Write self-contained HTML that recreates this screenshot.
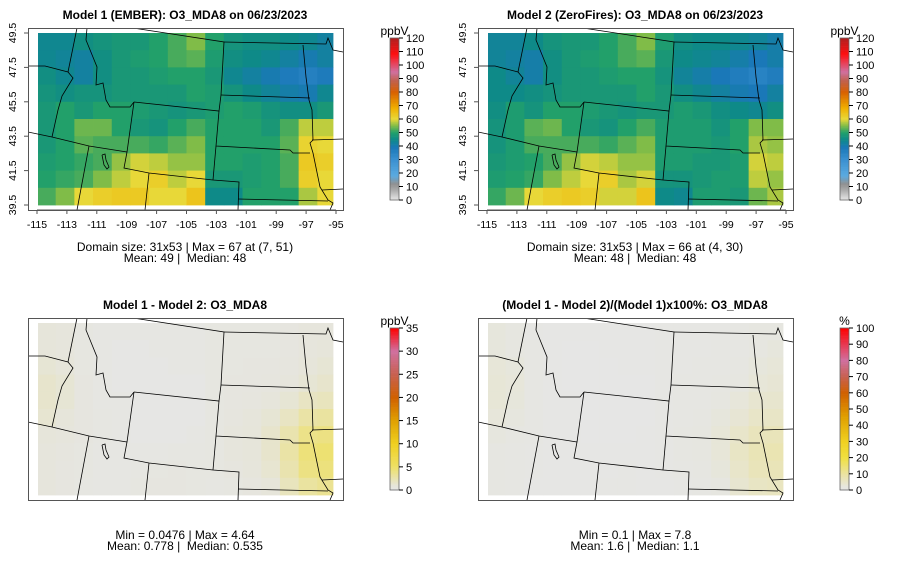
<!DOCTYPE html>
<html><head><meta charset="utf-8"><style>
html,body{margin:0;padding:0;background:#fff;}
svg{display:block;font-family:"Liberation Sans",sans-serif;}
</style></head><body>
<svg id="fig" width="900" height="579" viewBox="0 0 900 579"></svg>
<script>
// ---------- data ----------
const lonEdges = [-115,-95];
const latEdges = [39.5,49.5];
const lonTicks = [-115,-113,-111,-109,-107,-105,-103,-101,-99,-97,-95];
const latTicks = [49.5,47.5,45.5,43.5,41.5,39.5];
const ppbTicks = [0,10,20,30,40,50,60,70,80,90,100,110,120];
const diffTicks = [0,5,10,15,20,25,30,35];
const pctTicks = [0,10,20,30,40,50,60,70,80,90,100];
// rows: north (49) -> south (40); cols: west (-115) -> east (-95)
const model1 = [
[44,44,46,47,48,48,50,52,55,50,47,46,46,45,44,42],
[44,43,42,46,48,49,50,52,53,49,46,45,44,42,40,42],
[46,44,42,46,48,48,49,50,50,48,44,42,40,38,36,38],
[47,46,47,47,48,48,48,48,50,49,47,45,43,41,40,44],
[48,50,48,50,50,49,48,47,48,49,50,49,47,46,46,48],
[48,50,54,54,50,48,47,50,52,50,50,50,48,52,58,58],
[48,50,53,52,52,52,51,53,55,50,50,50,50,53,61,60],
[49,50,51,52,56,59,58,56,56,50,50,49,50,52,63,62],
[50,51,52,55,58,60,62,58,60,48,48,49,50,52,62,60],
[52,55,60,62,63,63,60,60,64,45,45,50,50,50,57,60]];
const model2 = [
[43,43,45,47,48,48,50,52,55,49,46,45,45,44,43,41],
[43,42,41,46,48,49,50,52,53,48,45,44,43,41,39,41],
[45,43,41,46,48,48,49,50,50,47,43,41,39,37,35,37],
[45,45,46,47,48,48,48,48,50,48,46,44,42,40,39,42],
[46,49,47,50,50,49,48,47,48,48,49,48,46,45,44,46],
[47,49,53,54,50,48,47,50,52,49,49,49,47,50,55,55],
[47,49,52,52,52,52,51,53,55,49,49,49,48,50,57,56],
[48,49,50,52,56,59,58,56,56,49,49,48,48,49,59,58],
[49,50,51,55,58,60,62,57,59,47,47,48,49,49,58,56],
[51,54,60,62,63,62,59,59,64,45,44,49,49,48,54,57]];
const diffVals = [
[1.0,0.8,0.5,0.3,0.3,0.3,0.3,0.3,0.3,0.5,0.5,0.5,0.5,0.6,0.8,0.8],
[1.0,0.8,0.5,0.3,0.2,0.2,0.3,0.3,0.3,0.5,0.5,0.5,0.5,0.6,0.8,1.0],
[1.2,1.0,0.5,0.3,0.2,0.2,0.2,0.3,0.3,0.5,0.5,0.6,0.6,0.7,1.0,1.2],
[1.5,1.2,0.6,0.3,0.2,0.2,0.2,0.2,0.2,0.5,0.6,0.6,0.7,0.8,1.2,1.5],
[1.5,1.2,0.6,0.3,0.3,0.2,0.2,0.2,0.2,0.5,0.6,0.7,0.9,1.2,1.8,2.0],
[1.3,1.0,0.6,0.4,0.3,0.2,0.2,0.2,0.2,0.5,0.7,0.9,1.2,1.8,2.8,3.0],
[1.0,0.8,0.6,0.4,0.3,0.2,0.2,0.2,0.3,0.5,0.8,1.0,1.5,2.5,3.8,4.0],
[0.8,0.7,0.5,0.3,0.3,0.3,0.3,0.4,0.4,0.5,0.8,1.0,1.5,2.8,4.3,4.6],
[0.8,0.6,0.5,0.3,0.3,0.4,0.5,0.6,0.5,0.5,0.7,0.9,1.3,2.5,4.0,4.2],
[0.8,0.6,0.4,0.3,0.3,0.5,0.6,0.6,0.5,0.4,0.5,0.7,1.0,2.0,3.0,3.5]];
const pctVals = [
[2.5,2.0,1.0,0.6,0.6,0.6,0.6,0.6,0.6,1.0,1.0,1.0,1.0,1.4,2.0,2.0],
[2.5,2.0,1.2,0.6,0.4,0.4,0.6,0.6,0.6,1.0,1.0,1.0,1.2,1.4,2.0,2.5],
[3.0,2.5,1.2,0.6,0.4,0.4,0.4,0.6,0.6,1.0,1.0,1.4,1.5,1.8,2.5,3.0],
[3.2,2.8,1.2,0.6,0.4,0.4,0.4,0.4,0.4,1.0,1.2,1.4,1.6,2.0,3.0,3.5],
[3.2,2.6,1.2,0.6,0.6,0.4,0.4,0.4,0.4,1.0,1.2,1.5,2.0,2.8,4.0,4.2],
[2.8,2.2,1.2,0.8,0.6,0.4,0.4,0.4,0.4,1.0,1.4,1.8,2.5,3.5,5.0,5.2],
[2.2,1.6,1.2,0.8,0.6,0.4,0.4,0.4,0.6,1.0,1.6,2.0,3.0,4.8,6.5,6.8],
[1.6,1.4,1.0,0.6,0.6,0.6,0.6,0.8,0.8,1.0,1.6,2.0,3.0,5.4,7.2,7.8],
[1.6,1.2,1.0,0.6,0.6,0.8,0.8,1.0,0.8,1.0,1.4,1.8,2.6,4.8,6.8,7.0],
[1.6,1.2,0.8,0.6,0.6,0.8,1.0,1.0,0.8,0.8,1.0,1.4,2.0,4.0,5.5,6.0]];

// ---------- styles/geometry ----------
const ppbStops=[[0,"#e8e8e8"],[8,"#a8a8a8"],[12,"#909090"],[18,"#5aaae0"],[30,"#3a90d0"],[39,"#1a78b8"],[45,"#0e8a88"],[50,"#22a06a"],[55,"#80bc48"],[60,"#e8d838"],[68,"#f0b000"],[80,"#d86000"],[88,"#c06048"],[95,"#d070a0"],[108,"#ff1010"],[120,"#b02020"]];
const diffStops=[[0,"#e6e6e6"],[1,"#e6e5da"],[5,"#eee066"],[10,"#f0d020"],[15,"#e0a000"],[20,"#d06000"],[25,"#c86050"],[30,"#d070a0"],[35,"#ff0000"]];
const pctStops=[[0,"#e6e6e6"],[2,"#e6e6e0"],[10,"#ebe3a0"],[20,"#f0e040"],[30,"#f0d020"],[45,"#e0a000"],[60,"#d06000"],[70,"#c86050"],[80,"#d070a0"],[100,"#ff0000"]];
function hex(c){return [1,3,5].map(i=>parseInt(c.substr(i,2),16));}
function colorFor(v,stops){
  if(v<=stops[0][0])return stops[0][1];
  for(let i=1;i<stops.length;i++){if(v<=stops[i][0]){const a=stops[i-1],b=stops[i];const t=(v-a[0])/(b[0]-a[0]);const ca=hex(a[1]),cb=hex(b[1]);return "rgb("+ca.map((x,k)=>Math.round(x+(cb[k]-x)*t)).join(",")+")";}}
  return stops[stops.length-1][1];
}
const NS="http://www.w3.org/2000/svg";
const svg=document.getElementById("fig");
function mk(tag,attrs,parent){const e=document.createElementNS(NS,tag);for(const k in attrs)e.setAttribute(k,attrs[k]);(parent||svg).appendChild(e);return e;}
const X0=38,X1=333,Y0=33,Y1=206;
function xScale(lon){return 37+(lon-lonEdges[0])/(lonEdges[1]-lonEdges[0])*299;}
function yScale(lat){return 205-(lat-latEdges[0])/(latEdges[1]-latEdges[0])*172;}
const borders=[
[[28,66],[45,66],[68,72],[73,78],[62,96],[58,110],[52,137]],
[[77,28],[68,72]],
[[87,28],[86,40],[97,67],[96,85],[103,83],[106,100],[110,107],[130,107],[134,102]],
[[28,132],[52,137],[89,146],[127,152]],
[[134,102],[127,152],[124,168],[149,173],[213,180],[239,182],[238,210]],
[[89,146],[77,210]],
[[149,173],[145,210]],
[[134,102],[219,111],[221,95],[224,42],[133,28]],
[[224,42],[326,44],[328,38],[333,50],[343,52]],
[[221,95],[310,98]],
[[303,45],[306,77],[309,100],[312,110],[313,140],[310,143],[313,153],[320,187],[328,200],[333,203],[330,210]],
[[219,111],[216,146],[290,150],[293,153],[310,153]],
[[216,146],[213,180]],
[[312,140],[343,139]],
[[322,190],[343,189]],
[[238,199],[328,201]],
[[102,155],[105,154],[106,160],[109,167],[107,169],[104,165],[103,160],[102,155]]
];
const panels=[
 {dx:0,dy:0,name:"model1",vals:model1,stops:ppbStops,ticks:ppbTicks,max:120,unit:"ppbV",axes:true,
  title:"Model 1 (EMBER): O3_MDA8 on 06/23/2023",l1:"Domain size: 31x53 | Max = 67 at (7, 51)",l2:"Mean: 49 |\u00a0 Median: 48",ty:[247,258]},
 {dx:450,dy:0,name:"model2",vals:model2,stops:ppbStops,ticks:ppbTicks,max:120,unit:"ppbV",axes:true,
  title:"Model 2 (ZeroFires): O3_MDA8 on 06/23/2023",l1:"Domain size: 31x53 | Max = 66 at (4, 30)",l2:"Mean: 48 |\u00a0 Median: 48",ty:[247,258]},
 {dx:0,dy:290,name:"difference",vals:diffVals,stops:diffStops,ticks:diffTicks,max:35,unit:"ppbV",axes:false,
  title:"Model 1 - Model 2: O3_MDA8",l1:"Min = 0.0476 | Max = 4.64",l2:"Mean: 0.778 |\u00a0 Median: 0.535",ty:[245,256]},
 {dx:450,dy:290,name:"percent-difference",vals:pctVals,stops:pctStops,ticks:pctTicks,max:100,unit:"%",axes:false,
  title:"(Model 1 - Model 2)/(Model 1)x100%: O3_MDA8",l1:"Min = 0.1 | Max = 7.8",l2:"Mean: 1.6 |\u00a0 Median: 1.1",ty:[245,256]}
];
panels.forEach(p=>{
  const g=mk("g",{transform:`translate(${p.dx},${p.dy})`});
  
  
  const t=mk("text",{x:185,y:19,"text-anchor":"middle","font-size":"12","font-weight":"bold",fill:"#000"},g);
  t.textContent=p.title;
  
  
  const hm=mk("g",{},g);
  
  
  const rows=p.vals.length,cols=p.vals[0].length;
  const dLon=(lonEdges[1]-lonEdges[0])/cols, dLat=(latEdges[1]-latEdges[0])/rows;
  for(let r=0;r<rows;r++)for(let c=0;c<cols;c++){
    const xa=Math.max(X0,xScale(lonEdges[0]+c*dLon)),xb=Math.min(X1,xScale(lonEdges[0]+(c+1)*dLon));
    const ya=Math.max(Y0,yScale(latEdges[1]-r*dLat)),yb=Math.min(Y1,yScale(latEdges[1]-(r+1)*dLat));
    const cell=mk("rect",{x:xa.toFixed(2),y:ya.toFixed(2),width:(xb-xa+0.4).toFixed(2),height:(yb-ya+0.4).toFixed(2),fill:colorFor(p.vals[r][c],p.stops)},hm);
    
    
  }
  const bg=mk("g",{fill:"none",stroke:"#000","stroke-width":"0.8"},g);
  
  
  const cp=mk("clipPath",{id:"clip"+p.name},g);mk("rect",{x:28,y:28,width:315,height:182},cp);
  bg.setAttribute("clip-path",`url(#clip${p.name})`);
  borders.forEach(b=>{const pl=mk("polyline",{points:b.map(q=>q.join(",")).join(" ")},bg);
    
    });
  const box=mk("rect",{x:28.5,y:28.5,width:315,height:182,fill:"none",stroke:"#555","stroke-width":"1"},g);
  
  
  if(p.axes){
    const ax=mk("g",{},g);
    
    
    lonTicks.forEach(v=>{const x=xScale(v);mk("line",{x1:x,x2:x,y1:210,y2:214,stroke:"#555"},ax);
      const tl=mk("text",{x:x,y:228,"text-anchor":"middle","font-size":"10.5",fill:"#000"},ax);tl.textContent=v;
      
      });
    mk("line",{x1:xScale(lonTicks[0]),x2:xScale(lonTicks[lonTicks.length-1]),y1:210,y2:210,stroke:"#555"},ax);
    const ay=mk("g",{},g);
    
    
    latTicks.forEach(v=>{const y=yScale(v);mk("line",{x1:24,x2:28,y1:y,y2:y,stroke:"#555"},ay);
      const tl=mk("text",{x:16,y:y,"text-anchor":"middle","font-size":"10.5",fill:"#000",transform:`rotate(-90 16 ${y})`},ay);tl.textContent=v.toFixed(1);
      
      });
  }
  const cb=mk("g",{},g);
  
  
  const cT=38,cB=200,cX=390,cW=9,n=120;
  for(let i=0;i<n;i++){const v=(i+0.5)/n*p.max;const y=cB-(i+1)/n*(cB-cT);
    mk("rect",{x:cX,y:y.toFixed(2),width:cW,height:((cB-cT)/n+0.3).toFixed(2),fill:colorFor(v,p.stops)},cb);}
  mk("rect",{x:cX,y:cT,width:cW,height:cB-cT,fill:"none",stroke:"#666","stroke-width":"0.8"},cb);
  p.ticks.forEach(v=>{const y=cB-v/p.max*(cB-cT);mk("line",{x1:cX+cW,x2:cX+cW+4,y1:y,y2:y,stroke:"#000"},cb);
    const tl=mk("text",{x:cX+cW+7,y:y+4,"font-size":"11",fill:"#000"},cb);tl.textContent=v;
    
    });
  const ut=mk("text",{x:cX+cW/2,y:cT-3,"text-anchor":"middle","font-size":"12",fill:"#000"},cb);ut.textContent=p.unit;
  
  
  [p.l1,p.l2].forEach((s,i)=>{const st=mk("text",{x:185,y:p.ty[i]+4,"text-anchor":"middle","font-size":"12",fill:"#000"},g);st.textContent=s;
    
    });
});
</script>
</body></html>
